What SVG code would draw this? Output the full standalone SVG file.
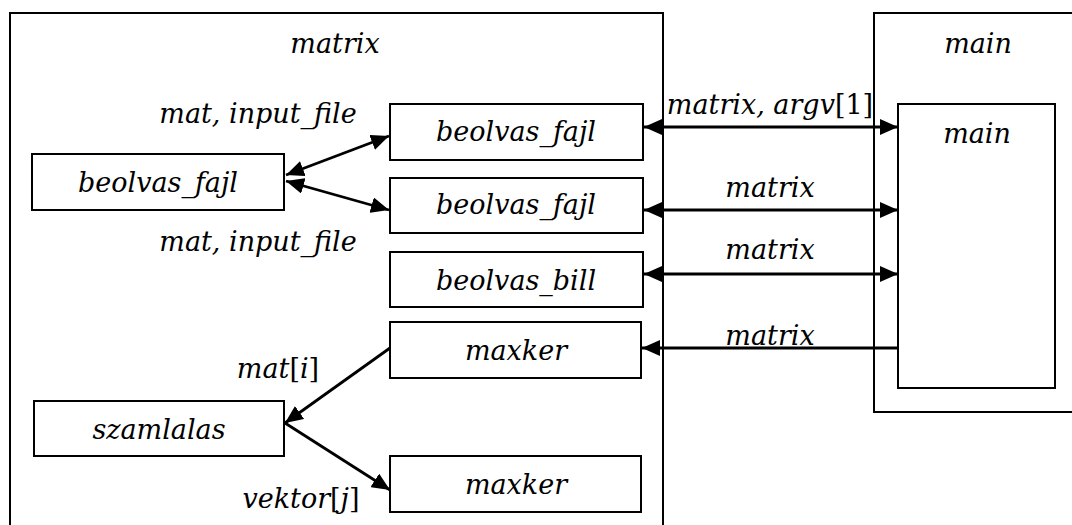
<svg xmlns="http://www.w3.org/2000/svg" width="1072" height="525" viewBox="0 0 1072 525">
<style>
.box{fill:#fff;stroke:#000;stroke-width:2}
.frame{fill:none;stroke:#000;stroke-width:2}
.t{font-family:"DejaVu Serif","Liberation Serif",serif;font-style:italic;font-size:27px;fill:#000;text-anchor:middle}
.u{font-style:normal}
.c{fill:none;stroke:#000;stroke-width:2.8}
</style>
<defs>
<marker id="ah" markerUnits="userSpaceOnUse" markerWidth="18" markerHeight="16" refX="18" refY="8" orient="auto-start-reverse">
<path d="M0,0 L18,8 L0,16 Z" fill="#000"/>
</marker>
</defs>
<g id="matrix-frame">
<rect class="frame" x="10" y="13" width="653" height="540"/>
<text class="t" x="335" y="53">matrix</text>
</g>
<g id="main-frame">
<rect class="frame" x="874" y="13" width="210" height="399"/>
<text class="t" x="978" y="53">main</text>
</g>
<g id="main">
<rect class="box" x="898" y="104" width="157" height="284"/>
<text class="t" x="977" y="143">main</text>
</g>
<g id="beolvas_fajl_left">
<rect class="box" x="32" y="154" width="252" height="56"/>
<text class="t" x="158" y="192">beolvas_fajl</text>
</g>
<g id="beolvas_fajl_1">
<rect class="box" x="390" y="104" width="253" height="56"/>
<text class="t" x="516" y="141">beolvas_fajl</text>
</g>
<g id="beolvas_fajl_2">
<rect class="box" x="390" y="178" width="253" height="55"/>
<text class="t" x="516" y="214">beolvas_fajl</text>
</g>
<g id="beolvas_bill">
<rect class="box" x="390" y="252" width="253" height="55"/>
<text class="t" x="516" y="290">beolvas_bill</text>
</g>
<g id="maxker_1">
<rect class="box" x="390" y="322" width="251" height="56"/>
<text class="t" x="516" y="360">maxker</text>
</g>
<g id="szamlalas">
<rect class="box" x="34" y="401" width="250" height="55"/>
<text class="t" x="159" y="439">szamlalas</text>
</g>
<g id="maxker_2">
<rect class="box" x="390" y="456" width="251" height="56"/>
<text class="t" x="516" y="494">maxker</text>
</g>
<g id="connectors">
<line class="c" x1="286" y1="175" x2="389" y2="136" marker-start="url(#ah)" marker-end="url(#ah)"/>
<line class="c" x1="286" y1="181" x2="389" y2="210" marker-start="url(#ah)" marker-end="url(#ah)"/>
<line class="c" x1="644" y1="127" x2="898" y2="127" marker-start="url(#ah)" marker-end="url(#ah)"/>
<line class="c" x1="644" y1="210" x2="898" y2="210" marker-start="url(#ah)" marker-end="url(#ah)"/>
<line class="c" x1="644" y1="274" x2="898" y2="274" marker-start="url(#ah)" marker-end="url(#ah)"/>
<line class="c" x1="642" y1="348" x2="898" y2="348" marker-start="url(#ah)"/>
<line class="c" x1="390" y1="348" x2="285" y2="423" marker-end="url(#ah)"/>
<line class="c" x1="285" y1="423" x2="390" y2="490" marker-end="url(#ah)"/>
<text class="t" x="258" y="123">mat,<tspan class="u"> </tspan>input_file</text>
<text class="t" x="258" y="251">mat,<tspan class="u"> </tspan>input_file</text>
<text class="t" x="770" y="114">matrix,<tspan class="u"> </tspan>argv<tspan class="u">[1]</tspan></text>
<text class="t" x="770" y="197">matrix</text>
<text class="t" x="770" y="259">matrix</text>
<text class="t" x="770" y="345">matrix</text>
<text class="t" x="278" y="378">mat<tspan class="u">[</tspan>i<tspan class="u">]</tspan></text>
<text class="t" x="301" y="508">vektor<tspan class="u">[</tspan>j<tspan class="u">]</tspan></text>
</g>
</svg>
